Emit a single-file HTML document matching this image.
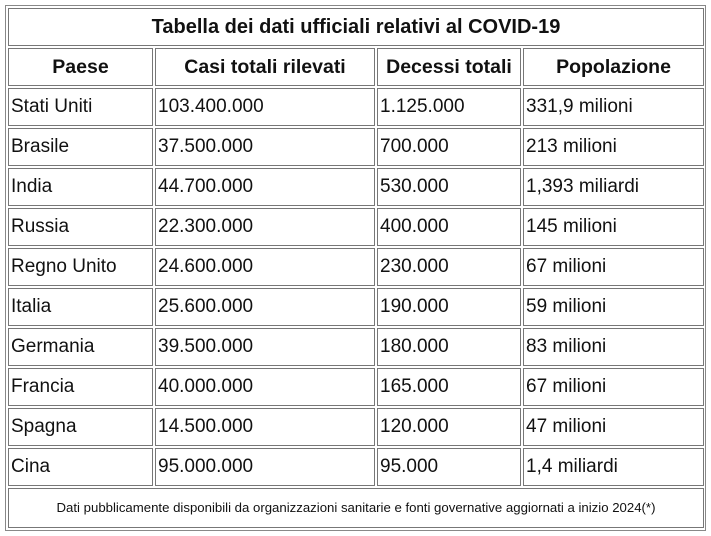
<!DOCTYPE html>
<html><head><meta charset="utf-8"><style>
body{margin:0;width:711px;height:536px;background:#fff;font-family:"Liberation Sans",sans-serif;color:#111;position:relative;overflow:hidden}
.o{position:absolute;left:5px;top:5px;width:699px;height:524px;border:1px solid #888}
.c{position:absolute;border:1px solid #777;box-sizing:border-box;font-size:19px;line-height:36px;padding-left:2px;white-space:nowrap;overflow:hidden}
.h{font-weight:bold;text-align:center;padding-left:0;font-size:19.5px}
</style></head><body>
<div class="o"></div>
<div class="c h" style="left:8px;top:8px;width:696px;height:38px;line-height:36px;font-size:20px">Tabella dei dati ufficiali relativi al COVID-19</div>
<div id="t"></div>
<div class="c" style="left:8px;top:488px;width:696px;height:40px;text-align:center;font-size:13.2px;line-height:38px;padding:0">Dati pubblicamente disponibili da organizzazioni sanitarie e fonti governative aggiornati a inizio 2024(*)</div>
<script>
var cols=[[8,145],[155,220],[377,144],[523,181]];
var rows=[["Paese","Casi totali rilevati","Decessi totali","Popolazione"],
["Stati Uniti","103.400.000","1.125.000","331,9 milioni"],
["Brasile","37.500.000","700.000","213 milioni"],
["India","44.700.000","530.000","1,393 miliardi"],
["Russia","22.300.000","400.000","145 milioni"],
["Regno Unito","24.600.000","230.000","67 milioni"],
["Italia","25.600.000","190.000","59 milioni"],
["Germania","39.500.000","180.000","83 milioni"],
["Francia","40.000.000","165.000","67 milioni"],
["Spagna","14.500.000","120.000","47 milioni"],
["Cina","95.000.000","95.000","1,4 miliardi"]];
var h="";
rows.forEach(function(r,i){var y=48+i*40;r.forEach(function(t,j){
h+='<div class="c'+(i==0?' h':'')+'" style="left:'+cols[j][0]+'px;top:'+y+'px;width:'+cols[j][1]+'px;height:38px">'+t+'</div>';});});
document.getElementById("t").outerHTML=h;
</script>
</body></html>
